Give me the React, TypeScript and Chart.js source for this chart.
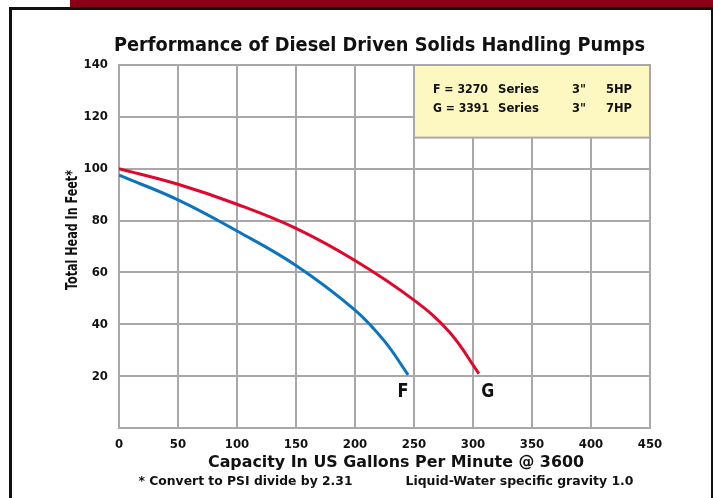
import React, { useEffect, useRef } from "react";
import { Chart, registerables } from "chart.js";

Chart.register(...registerables);

const title = "Performance of Diesel Driven Solids Handling Pumps";
const xTitle = "Capacity In US Gallons Per Minute @ 3600";
const yTitle = "Total Head In Feet*";
const footLeft = "* Convert to PSI divide by 2.31";
const footRight = "Liquid-Water specific gravity 1.0";

const xTicks = [0, 50, 100, 150, 200, 250, 300, 350, 400, 450];
const yTicks = [0, 20, 40, 60, 80, 100, 120, 140];

const seriesFX = [0, 50, 100, 150, 200, 225, 245];
const seriesFY = [97.5, 88, 76, 62.7, 45.5, 33.5, 20.5];
const seriesGX = [0, 50, 100, 150, 200, 250, 280, 305];
const seriesGY = [100, 94, 86.3, 77, 64.6, 49.3, 37, 21];

const legendRows = [
  ["F = 3270", "Series", '3"', "5HP"],
  ["G = 3391", "Series", '3"', "7HP"],
];
const curveLabels = [
  { text: "F", x: 241.5, y: 14 },
  { text: "G", x: 312.5, y: 14 },
];
const legendBox = { x0: 250, x1: 450, y0: 112, y1: 140 };

const FONT = "'DejaVu Sans Condensed', 'Liberation Sans Narrow', sans-serif";

function fitText(ctx: any, text: string, x: number, y: number, size: number, width: number, align: "left" | "center" = "left") {
  ctx.save();
  ctx.font = `bold ${size}px ${FONT}`;
  ctx.textBaseline = "middle";
  ctx.textAlign = "left";
  const w = ctx.measureText(text).width;
  const s = width / w;
  const left = align === "center" ? x - width / 2 : x;
  ctx.translate(left, y);
  ctx.scale(s, 1);
  ctx.fillText(text, 0, 0);
  ctx.restore();
}

export default function App() {
  const ref = useRef<HTMLCanvasElement | null>(null);
  useEffect(() => {
    document.body.style.margin = "0";
    const canvas = ref.current!;
    const decor = {
      id: "decor",
      beforeDraw(chart: any) {
        const ctx = chart.ctx;
        ctx.save();
        ctx.fillStyle = "#ffffff";
        ctx.fillRect(0, 0, 713, 498);
        ctx.fillStyle = "#8a0016";
        ctx.fillRect(70, 0, 643, 7);
        ctx.fillStyle = "#111111";
        ctx.fillRect(9, 7, 704, 3);
        ctx.fillRect(9, 7, 3, 491);
        ctx.fillRect(711, 7, 2, 491);
        ctx.restore();
      },
      beforeDatasetsDraw(chart: any) {
        const ctx = chart.ctx;
        const xs = chart.scales.x;
        const ys = chart.scales.y;
        const l = xs.getPixelForValue(legendBox.x0);
        const r = xs.getPixelForValue(legendBox.x1);
        const t = ys.getPixelForValue(legendBox.y1);
        const b = ys.getPixelForValue(legendBox.y0);
        ctx.save();
        ctx.fillStyle = "#fdf7c2";
        ctx.fillRect(l, t, r - l, b - t);
        ctx.strokeStyle = "#a8a8a8";
        ctx.lineWidth = 2;
        ctx.strokeRect(l, t, r - l, b - t);
        ctx.fillStyle = "#111";
        const cols = [l + 19, l + 84, l + 158, l + 192];
        const widths = [[55, 41, 14, 26], [56, 41, 14, 26]];
        legendRows.forEach((row, i) => {
          row.forEach((txt, j) => fitText(ctx, txt, cols[j], t + 25 + i * 19, 13, widths[i][j]));
        });
        ctx.restore();
      },
      afterDraw(chart: any) {
        const ctx = chart.ctx;
        const xs = chart.scales.x;
        const ys = chart.scales.y;
        ctx.save();
        ctx.fillStyle = "#111";
        fitText(ctx, title, 379.5, 46, 19.5, 531, "center");
        fitText(ctx, xTitle, 396, 463, 16.5, 376, "center");
        curveLabels.forEach((c) => {
          fitText(ctx, c.text, xs.getPixelForValue(c.x) - 6.5, ys.getPixelForValue(c.y), 19, c.text === "F" ? 11 : 13);
        });
        fitText(ctx, footLeft, 138.5, 482, 13, 214);
        fitText(ctx, footRight, 405.5, 482, 13, 228);
        ctx.translate(72.5, 230);
        ctx.rotate(-Math.PI / 2);
        fitText(ctx, yTitle, 0, 0, 15.5, 120, "center");
        ctx.restore();
      },
    };
    const chart = new Chart(canvas, {
      type: "line",
      data: {
        datasets: [
          {
            label: "F",
            data: seriesFX.map((x, i) => ({ x, y: seriesFY[i] })),
            borderColor: "#0a74c0",
            borderWidth: 3,
            pointRadius: 0,
            tension: 0.4,
          },
          {
            label: "G",
            data: seriesGX.map((x, i) => ({ x, y: seriesGY[i] })),
            borderColor: "#e2062c",
            borderWidth: 3,
            pointRadius: 0,
            tension: 0.4,
          },
        ],
      },
      options: {
        animation: false,
        responsive: false,
        layout: { padding: { left: 0, right: 63, top: 65, bottom: 0 } },
        plugins: { legend: { display: false }, tooltip: { enabled: false }, title: { display: false } },
        scales: {
          x: {
            type: "linear",
            min: xTicks[0],
            max: xTicks[xTicks.length - 1],
            afterBuildTicks: (s: any) => { s.ticks = xTicks.map((v) => ({ value: v })); },
            afterFit: (s: any) => { s.height = 70; },
            grid: { color: "#a8a8a8", lineWidth: 2, drawTicks: false },
            border: { color: "#a8a8a8", width: 2 },
            ticks: { color: "#111", font: { family: FONT, weight: "bold", size: 13 }, padding: 9, maxRotation: 0, autoSkip: false },
          },
          y: {
            type: "linear",
            min: yTicks[0],
            max: yTicks[yTicks.length - 1],
            afterBuildTicks: (s: any) => { s.ticks = yTicks.map((v) => ({ value: v })); },
            afterFit: (s: any) => { s.width = 119; },
            grid: { color: "#a8a8a8", lineWidth: 2, drawTicks: false },
            border: { color: "#a8a8a8", width: 2 },
            ticks: {
              color: "#111",
              font: { family: FONT, weight: "bold", size: 13 },
              padding: 11,
              callback: (v: any) => (v === 0 ? "" : String(v)),
            },
          },
        },
      },
      plugins: [decor],
    } as any);
    return () => chart.destroy();
  }, []);
  return (
    <div style={{ position: "absolute", left: 0, top: 0, width: 713, height: 498 }}>
      <canvas ref={ref} width={713} height={498} style={{ width: 713, height: 498, display: "block" }} />
    </div>
  );
}
